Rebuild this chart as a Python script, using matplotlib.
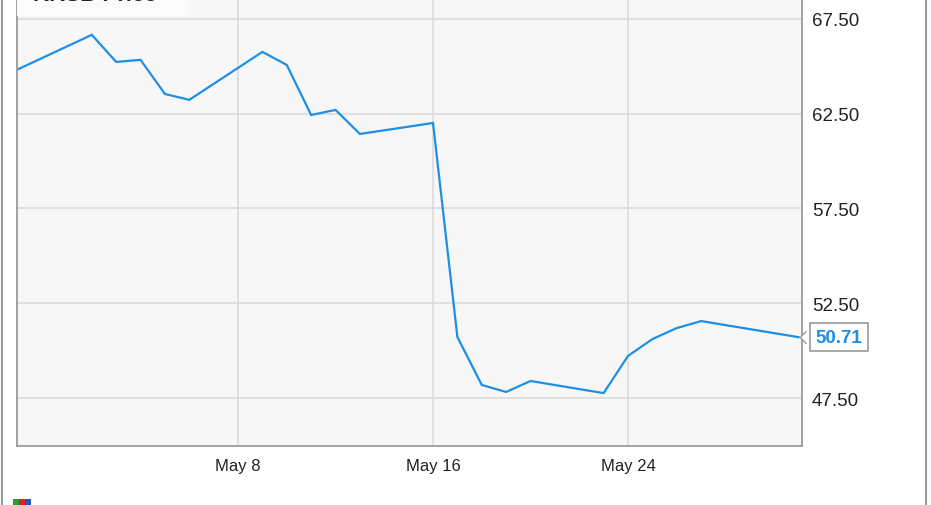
import pandas as pd
import matplotlib.pyplot as plt
from matplotlib.lines import Line2D
from matplotlib.patches import Rectangle
from matplotlib.transforms import ScaledTranslation

# Price data (2016)
dates = pd.to_datetime([
    '2016-04-29', '2016-05-02', '2016-05-03', '2016-05-04', '2016-05-05', '2016-05-06',
    '2016-05-09', '2016-05-10', '2016-05-11', '2016-05-12', '2016-05-13',
    '2016-05-16', '2016-05-17', '2016-05-18', '2016-05-19', '2016-05-20',
    '2016-05-23', '2016-05-24', '2016-05-25', '2016-05-26', '2016-05-27',
    '2016-05-31',
])
prices = [
    64.86, 66.66, 65.23, 65.34, 63.54, 63.23,
    65.76, 65.07, 62.43, 62.70, 61.43,
    62.01, 50.72, 48.19, 47.82, 48.40,
    47.76, 49.72, 50.61, 51.19, 51.56,
    50.71,
]
y_ticks = [47.5, 52.5, 57.5, 62.5, 67.5]
x_ticks = pd.to_datetime(['2016-05-08', '2016-05-16', '2016-05-24'])
x_labels = ['May 8', 'May 16', 'May 24']
series_name = 'KRSB Price'

line_color = '#1e8fe6'
plt.rcParams['font.family'] = ['Liberation Sans', 'DejaVu Sans']

fig = plt.figure(figsize=(9.31, 5.06), dpi=100)
ax = fig.add_axes([17 / 931, 1 - 447 / 506, 785 / 931, 447 / 506])
ax.set_facecolor('#f7f7f7')

# Plot line
ax.plot(dates, prices, color=line_color, linewidth=1.6, solid_joinstyle='miter')

# Axis limits
x0 = pd.Timestamp('2016-05-08') - pd.Timedelta(days=9.07)
x1 = pd.Timestamp('2016-05-24') + pd.Timedelta(days=7.14)
ax.set_xlim(x0, x1)
ax.set_ylim(44.97, 68.55)

# Ticks and grid
ax.set_yticks(y_ticks)
ax.set_yticklabels(['%.2f' % v for v in y_ticks])
ax.yaxis.tick_right()
ax.set_xticks(x_ticks)
ax.set_xticklabels(x_labels)
ax.tick_params(axis='y', length=0, pad=7, labelsize=13.5, colors='#222222')
ax.tick_params(axis='x', length=0, pad=9, labelsize=12, colors='#222222')
ax.grid(True, color='#dcdcdc', linewidth=1.2)
ax.set_axisbelow(True)
for side in ['left', 'bottom', 'right']:
    ax.spines[side].set_color('#9a9a9a')
    ax.spines[side].set_linewidth(1.3)
ax.spines['top'].set_visible(False)

# Last value label with pointer
last_date, last_price = dates[-1], prices[-1]
ax.annotate('%.2f' % last_price, xy=(last_date, last_price), xytext=(12, 0),
            textcoords='offset points', va='center', ha='left',
            fontsize=13.5, fontweight='bold', color=line_color, annotation_clip=False,
            bbox=dict(boxstyle='square,pad=0.3', fc='white', ec='#9a9a9a', lw=1.2),
            zorder=5)
notch = ax.transData + ScaledTranslation(5 / 72, 0, fig.dpi_scale_trans)
ax.plot([last_date], [last_price], marker=[(0, -1), (-1, 0), (0, 1)], markersize=9,
        markerfacecolor='white', markeredgecolor='#9a9a9a', markeredgewidth=1.0,
        clip_on=False, transform=notch, zorder=6, linestyle='none')

# Legend box at top left (cropped)
ax.add_patch(Rectangle((0, 1 - 17 / 447), 171 / 785, 17 / 447, transform=ax.transAxes,
                       facecolor='#fbfbfb', edgecolor='none', zorder=3))
ax.text(16 / 785, 1 - 1 / 447, series_name, transform=ax.transAxes, va='baseline',
        ha='left', fontsize=16, fontweight='bold', color='#222222', zorder=4)

# Outer frame lines
fig.add_artist(Line2D([2 / 931, 2 / 931], [0, 1], color='#9a9a9a', linewidth=1.5))
fig.add_artist(Line2D([926 / 931, 926 / 931], [0, 1], color='#9a9a9a', linewidth=1.5))

# Small logo at bottom left
for i, c in enumerate(['#2e9b3a', '#d8261f', '#2a55c0']):
    fig.add_artist(Rectangle(((13 + i * 6) / 931, 0), 6 / 931, 6 / 506,
                             facecolor=c, edgecolor='none'))

fig.savefig('out.png', dpi=100)
